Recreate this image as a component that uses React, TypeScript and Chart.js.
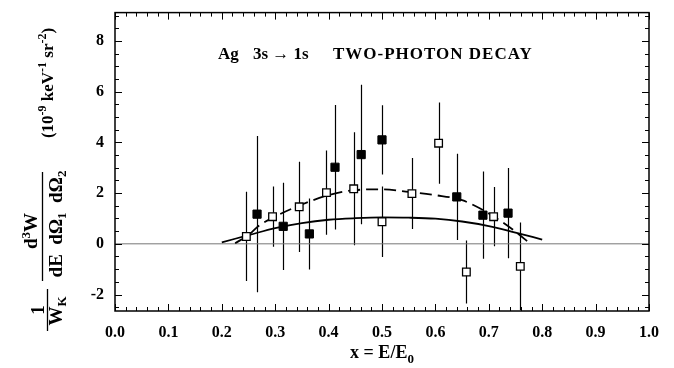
import React, { useEffect, useRef } from 'react';
import { Chart, registerables } from 'chart.js';

Chart.register(...registerables);

// ---- data ----
const xTickValues = [0, 0.1, 0.2, 0.3, 0.4, 0.5, 0.6, 0.7, 0.8, 0.9, 1.0];
const yTickValues = [-2, 0, 2, 4, 6, 8];

const filledX = [0.266, 0.315, 0.364, 0.412, 0.461, 0.5, 0.64, 0.689, 0.736];
const filledY = [1.17, 0.69, 0.39, 3.02, 3.52, 4.1, 1.85, 1.13, 1.21];
const filledErr = [3.08, 1.72, 1.4, 2.46, 2.75, 1.37, 1.7, 1.72, 1.78];

const openX = [0.246, 0.295, 0.345, 0.396, 0.447, 0.5, 0.556, 0.606, 0.658, 0.709, 0.759];
const openY = [0.29, 1.07, 1.46, 2.02, 2.17, 0.87, 1.98, 3.97, -1.11, 1.07, -0.89];
const openErr = [1.76, 1.19, 1.78, 1.66, 2.23, 1.39, 1.4, 1.6, 1.24, 1.17, 1.73];

const solidX = [0.2, 0.25, 0.3, 0.35, 0.4, 0.45, 0.5, 0.55, 0.6, 0.65, 0.7, 0.75, 0.8];
const solidY = [0.06, 0.34, 0.62, 0.82, 0.95, 1.01, 1.04, 1.03, 0.99, 0.88, 0.7, 0.44, 0.17];

const dashedX = [0.225, 0.25, 0.27, 0.3, 0.35, 0.4, 0.45, 0.5, 0.55, 0.6, 0.65, 0.7, 0.75, 0.775];
const dashedY = [0.02, 0.35, 0.72, 1.08, 1.55, 1.92, 2.12, 2.15, 2.05, 1.92, 1.72, 1.2, 0.48, 0.05];

const zeroX = [0, 1];
const zeroY = [0, 0];

const X_MIN = 0;
const X_MAX = 1;
const Y_MIN = -2.65;
const Y_MAX = 9.12;

const SERIF = '"Liberation Serif", "DejaVu Serif", serif';

const pts = (xs: number[], ys: number[]) => xs.map((x, i) => ({ x, y: ys[i] }));

type Run = { t: string; size: number; dy: number };

function runsWidth(ctx: CanvasRenderingContext2D, runs: Run[]) {
  let w = 0;
  for (const r of runs) {
    ctx.font = `bold ${r.size}px ${SERIF}`;
    w += ctx.measureText(r.t).width;
  }
  return w;
}

function drawRuns(ctx: CanvasRenderingContext2D, runs: Run[], uCenter: number, vBase: number) {
  let u = uCenter - runsWidth(ctx, runs) / 2;
  for (const r of runs) {
    ctx.font = `bold ${r.size}px ${SERIF}`;
    ctx.fillText(r.t, u, vBase + r.dy);
    u += ctx.measureText(r.t).width;
  }
}

const decorPlugin = {
  id: 'decor',
  beforeDatasetsDraw(chart: any) {
    const { ctx, chartArea, scales } = chart;
    const xs = scales.x;
    const ys = scales.y;
    ctx.save();
    ctx.beginPath();
    ctx.rect(chartArea.left, chartArea.top, chartArea.right - chartArea.left, chartArea.bottom - chartArea.top);
    ctx.clip();
    ctx.strokeStyle = '#000';
    ctx.lineWidth = 1.2;
    const bars = (X: number[], Y: number[], E: number[]) => {
      X.forEach((xv, i) => {
        const px = Math.round(xs.getPixelForValue(xv)) + 0.5;
        ctx.beginPath();
        ctx.moveTo(px, ys.getPixelForValue(Y[i] + E[i]));
        ctx.lineTo(px, ys.getPixelForValue(Y[i] - E[i]));
        ctx.stroke();
      });
    };
    bars(filledX, filledY, filledErr);
    bars(openX, openY, openErr);
    ctx.restore();
  },
  afterDraw(chart: any) {
    const { ctx, chartArea, scales } = chart;
    const xs = scales.x;
    const ys = scales.y;
    const { left, right, top, bottom } = chartArea;
    ctx.save();
    // frame
    ctx.strokeStyle = '#000';
    ctx.lineWidth = 1.5;
    ctx.strokeRect(left, top, right - left, bottom - top);
    // ticks
    ctx.lineWidth = 1;
    const major = 7;
    const minor = 4;
    for (let i = 0; i <= 50; i++) {
      const v = i * 0.02;
      const isMajor = i % 5 === 0;
      const px = Math.round(xs.getPixelForValue(v)) + 0.5;
      const len = isMajor ? major : minor;
      ctx.beginPath();
      ctx.moveTo(px, bottom);
      ctx.lineTo(px, bottom - len);
      ctx.moveTo(px, top);
      ctx.lineTo(px, top + len);
      ctx.stroke();
    }
    for (let i = -5; i <= 18; i++) {
      const v = i * 0.5;
      if (v < Y_MIN || v > Y_MAX) continue;
      const isMajor = i % 4 === 0;
      const py = Math.round(ys.getPixelForValue(v)) + 0.5;
      const len = isMajor ? major : minor;
      ctx.beginPath();
      ctx.moveTo(left, py);
      ctx.lineTo(left + len, py);
      ctx.moveTo(right, py);
      ctx.lineTo(right - len, py);
      ctx.stroke();
    }
    ctx.fillStyle = '#000';
    // title inside plot
    ctx.textBaseline = 'alphabetic';
    ctx.textAlign = 'left';
    ctx.font = `bold 17px ${SERIF}`;
    (ctx as any).letterSpacing = '0px';
    ctx.fillText('Ag', 218, 59);
    ctx.fillText('3s \u2192 1s', 253, 59);
    (ctx as any).letterSpacing = '1px';
    ctx.fillText('TWO-PHOTON DECAY', 333, 59);
    (ctx as any).letterSpacing = '0px';

    // x axis title
    ctx.font = `bold 18px ${SERIF}`;
    const main = 'x = E/E';
    const wMain = ctx.measureText(main).width;
    ctx.font = `bold 13px ${SERIF}`;
    const wSub = ctx.measureText('0').width;
    const startX = (left + right) / 2 - (wMain + wSub) / 2;
    ctx.font = `bold 18px ${SERIF}`;
    ctx.fillText(main, startX, 358);
    ctx.font = `bold 13px ${SERIF}`;
    ctx.fillText('0', startX + wMain, 363);

    // y axis title (rotated)
    ctx.save();
    ctx.rotate(-Math.PI / 2);
    // screen X = v, screen Y = -u
    drawRuns(ctx, [{ t: '1', size: 19, dy: 0 }], -310, 44);
    ctx.lineWidth = 1.3;
    ctx.beginPath();
    ctx.moveTo(-331, 47.5);
    ctx.lineTo(-289, 47.5);
    ctx.stroke();
    drawRuns(ctx, [{ t: 'W', size: 19, dy: 0 }, { t: 'K', size: 13, dy: 4 }], -311, 62);

    drawRuns(ctx, [{ t: 'd', size: 19, dy: 0 }, { t: '3', size: 13, dy: -7 }, { t: 'W', size: 19, dy: 0 }], -231, 37);
    ctx.beginPath();
    ctx.moveTo(-281, 42.5);
    ctx.lineTo(-172, 42.5);
    ctx.stroke();
    drawRuns(
      ctx,
      [
        { t: 'dE  d\u03A9', size: 19, dy: 0 },
        { t: '1', size: 13, dy: 4 },
        { t: '  d\u03A9', size: 19, dy: 0 },
        { t: '2', size: 13, dy: 4 },
      ],
      -224,
      62
    );

    drawRuns(
      ctx,
      [
        { t: '(10', size: 17, dy: 0 },
        { t: '-9', size: 12, dy: -7 },
        { t: ' keV', size: 17, dy: 0 },
        { t: '-1', size: 12, dy: -7 },
        { t: ' sr', size: 17, dy: 0 },
        { t: '-2', size: 12, dy: -7 },
        { t: ')', size: 17, dy: 0 },
      ],
      -83,
      53
    );
    ctx.restore();
    ctx.restore();
  },
};

export default function App() {
  const canvasRef = useRef<HTMLCanvasElement | null>(null);

  useEffect(() => {
    const canvas = canvasRef.current;
    if (!canvas) return;
    const tickFont = { family: SERIF, weight: 'bold' as const, size: 16 };
    const chart = new Chart(canvas, {
      type: 'scatter',
      data: {
        datasets: [
          {
            label: 'filled',
            data: pts(filledX, filledY),
            pointStyle: 'rect',
            pointRadius: 5.8,
            backgroundColor: '#000',
            borderColor: '#000',
            borderWidth: 1,
            showLine: false,
          },
          {
            label: 'open',
            data: pts(openX, openY),
            pointStyle: 'rect',
            pointRadius: 5.4,
            backgroundColor: '#fff',
            borderColor: '#000',
            borderWidth: 1.3,
            showLine: false,
          },
          {
            label: 'solid',
            data: pts(solidX, solidY),
            showLine: true,
            pointRadius: 0,
            borderColor: '#000',
            borderWidth: 1.8,
            cubicInterpolationMode: 'monotone',
            fill: false,
          },
          {
            label: 'dashed',
            data: pts(dashedX, dashedY),
            showLine: true,
            pointRadius: 0,
            borderColor: '#000',
            borderWidth: 1.8,
            borderDash: [12, 6],
            cubicInterpolationMode: 'monotone',
            fill: false,
          },
          {
            label: 'zero',
            data: pts(zeroX, zeroY),
            showLine: true,
            pointRadius: 0,
            borderColor: '#777',
            borderWidth: 1,
            fill: false,
          },
        ] as any,
      },
      options: {
        animation: false,
        responsive: false,
        maintainAspectRatio: false,
        devicePixelRatio: 1,
        layout: { padding: { top: 10, right: 25, left: 0, bottom: 0 } },
        plugins: {
          legend: { display: false },
          tooltip: { enabled: false },
          title: { display: false },
        },
        scales: {
          x: {
            type: 'linear',
            min: X_MIN,
            max: X_MAX,
            grid: { display: false },
            border: { display: false },
            afterBuildTicks: (s: any) => {
              s.ticks = xTickValues.map((v) => ({ value: v }));
            },
            afterFit: (s: any) => {
              s.height = 57;
            },
            ticks: {
              autoSkip: false,
              maxRotation: 0,
              padding: 4,
              color: '#000',
              font: tickFont,
              callback: (v: any) => Number(v).toFixed(1),
            },
          },
          y: {
            type: 'linear',
            min: Y_MIN,
            max: Y_MAX,
            grid: { display: false },
            border: { display: false },
            afterBuildTicks: (s: any) => {
              s.ticks = yTickValues.map((v) => ({ value: v }));
            },
            afterFit: (s: any) => {
              s.width = 115;
            },
            ticks: {
              autoSkip: false,
              padding: 3,
              color: '#000',
              font: tickFont,
              callback: (v: any) => String(v),
            },
          },
        },
      } as any,
      plugins: [decorPlugin],
    });
    return () => chart.destroy();
  }, []);

  return (
    <div style={{ position: 'absolute', left: 0, top: 0, width: 674, height: 368, background: '#fff' }}>
      <canvas ref={canvasRef} width={674} height={368} style={{ width: 674, height: 368, display: 'block' }} />
    </div>
  );
}
